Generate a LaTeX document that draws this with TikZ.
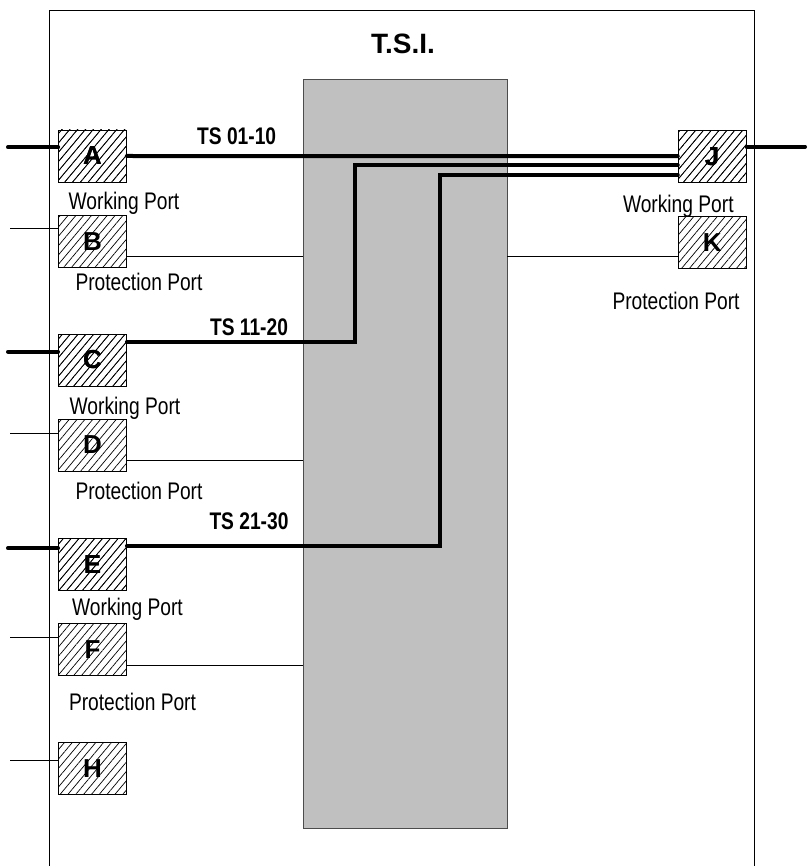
\documentclass[tikz,border=0pt]{standalone}
\usepackage{fontspec}
\setmainfont{Liberation Sans}
\newfontfamily\narrowfont[FakeStretch=0.8]{Liberation Sans}
\usetikzlibrary{patterns.meta}
\definecolor{coregray}{RGB}{192,192,192}
\begin{document}
\begin{tikzpicture}[x=1pt,y=-1pt,
  portbox/.style={draw=black,line width=0.9pt,minimum width=68pt,minimum height=52pt,inner sep=0pt,
    pattern={Lines[angle=50,distance=6pt,line width=0.7pt]},
    font=\fontsize{26}{28}\selectfont\bfseries},
  core/.style={draw=black!70,line width=0.8pt,fill=coregray,minimum width=204pt,minimum height=749pt,inner sep=0pt},
  bus/.style={line width=4pt,line cap=round},
  wire/.style={line width=1pt},
  portlabel/.style={anchor=base,inner sep=0pt,font=\narrowfont\fontsize{24}{28}\selectfont},
  tslabel/.style={anchor=base,inner sep=0pt,font=\narrowfont\bfseries\fontsize{24}{28}\selectfont},
  titlelabel/.style={anchor=base,inner sep=0pt,font=\bfseries\fontsize{28}{32}\selectfont}]
\useasboundingbox (0,0) rectangle (807,866);
% outer frame
\draw[line width=1pt] (49,866) -- (49,11) -- (754,11) -- (754,866);
\node[titlelabel] (title) at (403,53.3) {T.S.I.};
% core
\node[core] (core) at (405,453.5) {};
% ports (positions)
\coordinate (pA) at (92.5,156);
\coordinate (pB) at (92.5,241.5);
\coordinate (pC) at (92.5,360);
\coordinate (pD) at (92.5,445);
\coordinate (pE) at (92.5,564.7);
\coordinate (pF) at (92.5,649.5);
\coordinate (pH) at (92.5,768.5);
\coordinate (pJ) at (712.2,156.2);
\coordinate (pK) at (712.2,242.6);
\path (pA) node[portbox] (A) {A}
      (pB) node[portbox] (B) {B}
      (pC) node[portbox] (C) {C}
      (pD) node[portbox] (D) {D}
      (pE) node[portbox] (E) {E}
      (pF) node[portbox] (F) {F}
      (pH) node[portbox] (H) {H}
      (pJ) node[portbox] (J) {J}
      (pK) node[portbox] (K) {K};
% left stubs
\coordinate (a0) at (8,147.3);
\coordinate (b0) at (10,229);
\coordinate (c0) at (8,351.7);
\coordinate (d0) at (10,433.7);
\coordinate (e0) at (8,548.3);
\coordinate (f0) at (10,637);
\coordinate (h0) at (10,760);
\coordinate (j0) at (805,146.7);
\draw[bus] (a0) -- (a0 -| A.west);
\draw[bus] (c0) -- (c0 -| C.west);
\draw[bus] (e0) -- (e0 -| E.west);
\draw[wire] (b0) -- (b0 -| B.west);
\draw[wire] (d0) -- (d0 -| D.west);
\draw[wire] (f0) -- (f0 -| F.west);
\draw[wire] (h0) -- (h0 -| H.west);
\draw[bus] (j0) -- (j0 -| J.east);
% protection wires to core
\coordinate (b1) at (0,256.7);
\coordinate (d1) at (0,460.7);
\coordinate (f1) at (0,665);
\coordinate (k1) at (0,256.7);
\draw[wire] (b1 -| B.east) -- (b1 -| core.west);
\draw[wire] (d1 -| D.east) -- (d1 -| core.west);
\draw[wire] (f1 -| F.east) -- (f1 -| core.west);
\draw[wire] (k1 -| core.east) -- (k1 -| K.west);
% working buses to J
\coordinate (cturn) at (355,341.7);
\coordinate (eturn) at (440,545.7);
\draw[bus] (A.east) -- (J.west);
\draw[bus,line join=miter] (cturn -| C.east) -- (cturn) |- ([yshift=-9.3pt]J.west);
\draw[bus,line join=miter] (eturn -| E.east) -- (eturn) |- ([yshift=-18.6pt]J.west);
% redraw ports on top
\path (pA) node[portbox] {A}
      (pC) node[portbox] {C}
      (pE) node[portbox] {E}
      (pJ) node[portbox] {J};
% labels
\node[tslabel] (ts1) at (236.7,145) {TS 01-10};
\node[tslabel] (ts2) at (249,335) {TS 11-20};
\node[tslabel] (ts3) at (249,529.3) {TS 21-30};
\node[portlabel] (wA) at (124,209.3) {Working Port};
\node[portlabel] (pBl) at (139,290.7) {Protection Port};
\node[portlabel] (wC) at (125,414) {Working Port};
\node[portlabel] (pDl) at (139,499) {Protection Port};
\node[portlabel] (wE) at (127.5,615) {Working Port};
\node[portlabel] (pFl) at (132.5,710) {Protection Port};
\node[portlabel] (wJ) at (678.3,212.7) {Working Port};
\node[portlabel] (pKl) at (676,309.3) {Protection Port};
\end{tikzpicture}
\end{document}
